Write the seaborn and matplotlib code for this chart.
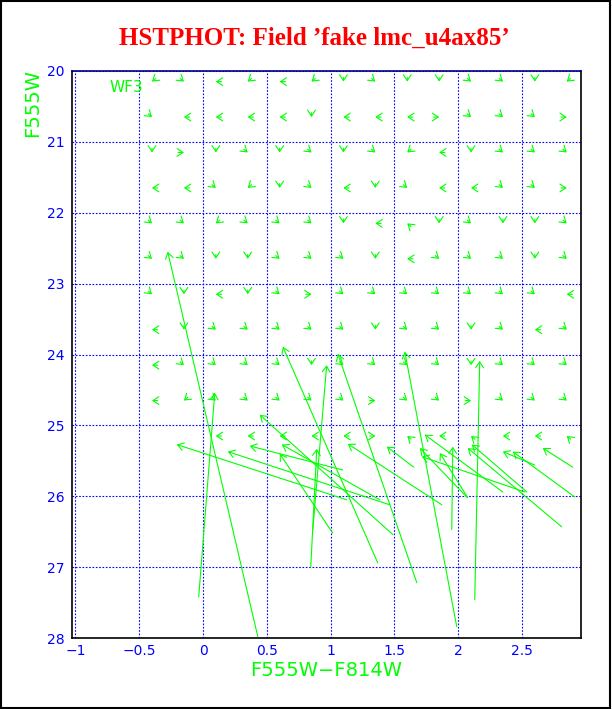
import numpy as np
import matplotlib
matplotlib.use("Agg")
import matplotlib.pyplot as plt
import seaborn as sns
from matplotlib.patches import Rectangle
from matplotlib.ticker import MultipleLocator, FuncFormatter

nan = np.nan

# input grid of the fake stars
col_grid = [-0.4, -0.15, 0.1, 0.35, 0.6, 0.85, 1.1, 1.35, 1.6, 1.85, 2.1, 2.35, 2.6, 2.85]
mag_rows = [20.15, 20.65, 21.15, 21.65, 22.15, 22.65, 23.15, 23.65, 24.15, 24.65, 25.15]

# recovered minus input, grid stars (nan = no arrow)
dcol = [
    [0.03, -0.03, 0.045, 0.03, 0.045, 0.03, 0, -0.03, 0, 0, -0.03, -0.03, 0, 0.03],
    [-0.03, 0.045, 0.045, 0.045, 0.045, 0, 0.045, 0.045, 0.045, -0.045, -0.03, -0.03, -0.03, -0.045],
    [0, -0.045, 0, -0.03, 0, -0.03, 0, -0.03, 0.03, 0.045, 0, -0.03, -0.03, -0.03],
    [0.045, 0.045, -0.03, 0.03, 0, -0.03, 0.045, 0, -0.03, 0.045, 0.045, -0.03, -0.03, -0.045],
    [-0.03, -0.03, 0.03, -0.03, -0.03, -0.03, 0, 0.045, 0.03, 0, -0.03, 0, 0, -0.03],
    [-0.03, -0.03, 0, 0, -0.03, -0.03, -0.03, 0, 0.045, -0.03, -0.03, -0.03, 0, -0.03],
    [-0.03, 0, 0.045, 0, -0.03, -0.045, -0.03, -0.03, -0.03, -0.03, -0.03, -0.03, -0.03, 0.045],
    [0.045, 0, -0.03, -0.03, -0.03, -0.03, -0.03, 0, -0.03, -0.03, 0, -0.03, 0.045, -0.03],
    [0.045, -0.03, -0.03, -0.03, -0.03, 0, -0.03, -0.03, -0.03, -0.03, 0, -0.03, -0.03, -0.03],
    [0.045, 0.03, -0.03, -0.03, -0.03, -0.03, -0.03, -0.045, -0.03, -0.03, -0.045, -0.03, -0.03, -0.03],
    [nan, nan, 0.045, 0.045, 0.045, 0.045, 0.045, -0.045, 0.03, 0.045, 0.03, 0.045, 0.045, 0.03],
]
dmag = [
    [-0.045, -0.045, 0, -0.045, 0, -0.045, -0.06, -0.045, -0.06, -0.06, -0.045, -0.045, -0.06, -0.045],
    [-0.045, 0, 0, 0, 0, -0.06, 0, 0, 0, 0, -0.045, -0.045, -0.045, 0],
    [-0.06, 0, -0.06, -0.045, -0.06, -0.045, -0.06, -0.045, -0.045, 0, -0.06, -0.045, -0.045, -0.045],
    [0, 0, -0.045, -0.045, -0.06, -0.045, 0, -0.06, -0.045, 0, 0, -0.045, -0.045, 0],
    [-0.045, -0.045, -0.045, -0.045, -0.045, -0.045, -0.06, 0, 0.045, -0.06, -0.045, -0.06, -0.06, -0.045],
    [-0.045, -0.045, -0.06, -0.06, -0.045, -0.045, -0.045, -0.06, 0, -0.045, -0.045, -0.045, -0.06, -0.045],
    [-0.045, -0.06, 0, -0.06, -0.045, 0, -0.045, -0.045, -0.045, -0.045, -0.045, -0.045, -0.045, 0],
    [0, -0.06, -0.045, -0.045, -0.045, -0.045, -0.045, -0.06, -0.045, -0.045, -0.06, -0.045, 0, -0.045],
    [0, -0.045, -0.045, -0.045, -0.045, -0.06, -0.045, -0.045, -0.045, -0.045, -0.06, -0.045, -0.045, -0.045],
    [0, -0.045, -0.045, -0.045, -0.045, -0.045, -0.045, 0, -0.045, -0.045, 0, -0.045, -0.045, -0.045],
    [nan, nan, 0, 0, 0, 0, 0, 0, 0.045, 0, 0.045, 0, 0, 0.045],
]

# badly recovered stars: input (arrow head) and recovered (arrow tail)
bad_col_in = [-0.277, 0.092, 0.625, 1.056, 1.581, 2.168, 0.969, 0.444, -0.206, 0.194,
              0.366, 0.617, 0.601, 0.891, 1.134, 1.440, 1.737, 1.855, 1.714, 1.699,
              1.957, 2.074, 2.106, 2.349, 2.427, 2.662]
bad_mag_in = [22.55, 24.54, 23.89, 23.99, 23.96, 24.09, 24.15, 24.85, 25.27, 25.37,
              25.29, 25.27, 25.40, 25.33, 25.26, 25.30, 25.13, 25.39, 25.44, 25.32,
              25.30, 25.32, 25.27, 25.37, 25.37, 25.32]
bad_col_out = [0.429, -0.034, 1.369, 1.675, 1.988, 2.129, 0.860, 1.487, 1.126, 1.463,
               1.095, 1.385, 1.016, 0.844, 1.871, 1.651, 2.349, 2.074, 2.522, 2.066,
               1.949, 2.810, 2.537, 2.599, 2.913, 2.897]
bad_mag_out = [27.98, 27.42, 26.94, 27.22, 27.84, 27.46, 26.47, 26.54, 26.05, 26.12,
               25.63, 26.05, 26.52, 27.00, 26.12, 25.59, 25.94, 26.02, 25.94, 26.01,
               26.47, 26.43, 25.94, 25.56, 26.01, 25.59]

GREEN = "#00ff00"
BLUE = "#0000ff"

sns.set_style("white")
plt.rcParams["font.family"] = ["DejaVu Sans"]

fig = plt.figure(figsize=(6.12, 7.09), dpi=100)
ax = fig.add_axes([0.117, 0.1001, 0.832, 0.7998])

ax.set_xlim(-1.03, 2.96)
ax.set_ylim(28, 20)

ax.xaxis.set_major_locator(MultipleLocator(0.5))
ax.xaxis.set_minor_locator(MultipleLocator(0.1))
ax.xaxis.set_major_formatter(FuncFormatter(lambda v, p: f"{v:g}".replace("-", "\u2212")))
ax.yaxis.set_major_locator(MultipleLocator(1))
ax.yaxis.set_minor_locator(MultipleLocator(0.2))
ax.grid(True, which="major", color=BLUE, linestyle=(0, (1.5, 1.5)), linewidth=0.8)

ax.tick_params(axis="x", which="both", direction="in", colors=BLUE, labelsize=10, pad=4)
ax.tick_params(axis="x", which="major", length=6, width=0.9)
ax.tick_params(axis="x", which="minor", length=3.5, width=0.9)
ax.tick_params(axis="y", which="both", direction="in", color="black", labelcolor=BLUE,
               labelsize=10, length=3, width=0.9, pad=5)

for side in ["left", "bottom", "right"]:
    ax.spines[side].set_color("black")
    ax.spines[side].set_linewidth(1.2)
ax.spines["top"].set_color("#000080")
ax.spines["top"].set_linewidth(1.2)

arrow_kw = dict(arrowstyle="->,head_length=0.42,head_width=0.28", color=GREEN,
                lw=0.8, shrinkA=0, shrinkB=0)

# grid stars, tiny arrows
for i, m in enumerate(mag_rows):
    for j, c in enumerate(col_grid):
        dc = dcol[i][j]
        dm = dmag[i][j]
        if np.isnan(dc):
            continue
        ax.annotate("", xy=(c, m), xytext=(c + dc, m + dm), arrowprops=arrow_kw)

# long arrows
for ci, mi, co, mo in zip(bad_col_in, bad_mag_in, bad_col_out, bad_mag_out):
    ax.annotate("", xy=(ci, mi), xytext=(co, mo), arrowprops=arrow_kw)

ax.text(-0.6, 20.24, "WF3", color=GREEN, fontsize=11, ha="center", va="center")

fig.text(0.513, 0.946, "HSTPHOT: Field \u2019fake lmc_u4ax85\u2019", color="#ff0000",
         fontsize=18, fontweight="bold", family="Liberation Serif", ha="center", va="center")
fig.text(0.533, 0.054, "F555W\u2212F814W", color=GREEN, fontsize=14, ha="center", va="center")
fig.text(0.054, 0.902, "F555W", color=GREEN, fontsize=14, rotation=90, ha="center", va="top")

fig.patches.append(Rectangle((0.001, 0.002), 0.995, 0.996, transform=fig.transFigure,
                             fill=False, edgecolor="black", linewidth=1.5))

fig.savefig("out.png", dpi=100, facecolor="white")
